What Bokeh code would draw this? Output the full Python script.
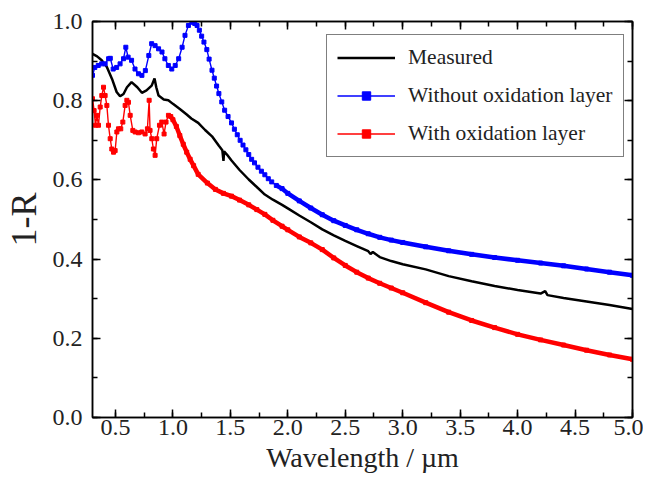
from bokeh.plotting import figure
from bokeh.models import (Range1d, LinearAxis, SingleIntervalTicker, PrintfTickFormatter,
                          Legend, LegendItem)
from bokeh.embed import file_html
from bokeh.resources import INLINE

# ---- data ----
measured_x = [0.30, 0.34, 0.38, 0.425, 0.47, 0.51, 0.54, 0.57, 0.60, 0.64, 0.69, 0.73, 0.77, 0.815,
              0.84, 0.855, 0.875, 0.92, 0.96, 1.0, 1.06, 1.12, 1.16, 1.22, 1.28, 1.34, 1.40, 1.43,
              1.44, 1.445, 1.47, 1.51, 1.58, 1.66, 1.73, 1.80, 1.87, 1.95, 2.0, 2.1, 2.2, 2.3, 2.4,
              2.5, 2.6, 2.7, 2.72, 2.74, 2.8, 2.9, 3.0, 3.2, 3.4, 3.6, 3.8, 4.0, 4.2, 4.24, 4.26,
              4.4, 4.6, 4.8, 5.0]
measured_y = [0.918, 0.912, 0.902, 0.885, 0.855, 0.822, 0.811, 0.817, 0.834, 0.847, 0.834, 0.82,
              0.826, 0.838, 0.856, 0.834, 0.813, 0.803, 0.801, 0.792, 0.779, 0.765, 0.755, 0.744,
              0.726, 0.71, 0.686, 0.675, 0.648, 0.672, 0.664, 0.649, 0.625, 0.601, 0.582, 0.563,
              0.55, 0.537, 0.528, 0.51, 0.493, 0.475, 0.46, 0.446, 0.433, 0.42, 0.413, 0.418,
              0.405, 0.395, 0.387, 0.374, 0.357, 0.344, 0.332, 0.322, 0.313, 0.319, 0.309, 0.302,
              0.293, 0.284, 0.274]

without_x = [0.30, 0.32, 0.35, 0.38, 0.41, 0.44, 0.455, 0.48, 0.51, 0.54, 0.57, 0.59, 0.61, 0.64,
             0.67, 0.70, 0.73, 0.76, 0.79, 0.815, 0.845, 0.875, 0.905, 0.93, 0.96, 0.99, 1.02,
             1.05, 1.08, 1.105, 1.135, 1.165, 1.19, 1.21, 1.23, 1.25, 1.27, 1.295, 1.315, 1.34,
             1.36, 1.38, 1.40, 1.425, 1.45, 1.48, 1.51, 1.535, 1.56, 1.585, 1.61, 1.635, 1.66,
             1.685, 1.71, 1.74, 1.77, 1.80, 1.83, 1.86, 1.90, 1.95, 2.0, 2.1, 2.2, 2.3, 2.4, 2.5,
             2.6, 2.7, 2.8, 2.9, 3.0, 3.2, 3.4, 3.6, 3.8, 4.0, 4.2, 4.4, 4.6, 4.8, 5.0]
without_y = [0.864, 0.884, 0.889, 0.893, 0.893, 0.906, 0.907, 0.88, 0.884, 0.893, 0.906, 0.935,
             0.91, 0.902, 0.88, 0.868, 0.864, 0.876, 0.914, 0.944, 0.939, 0.931, 0.923, 0.906,
             0.889, 0.88, 0.889, 0.906, 0.935, 0.965, 0.99, 0.998, 0.995, 0.99, 0.978, 0.963,
             0.948, 0.929, 0.905, 0.877, 0.857, 0.837, 0.818, 0.797, 0.776, 0.76, 0.744, 0.728,
             0.714, 0.70, 0.688, 0.676, 0.664, 0.652, 0.643, 0.632, 0.622, 0.613, 0.603, 0.595,
             0.586, 0.578, 0.566, 0.547, 0.529, 0.512, 0.497, 0.485, 0.474, 0.464, 0.455, 0.448,
             0.442, 0.431, 0.421, 0.412, 0.404, 0.397, 0.390, 0.383, 0.375, 0.367, 0.359]

with_x = [0.30, 0.314, 0.326, 0.338, 0.352, 0.367, 0.381, 0.396, 0.41, 0.425, 0.439, 0.454, 0.468,
          0.483, 0.497, 0.512, 0.526, 0.546, 0.564, 0.584, 0.599, 0.613, 0.628, 0.651, 0.671,
          0.70, 0.729, 0.758, 0.778, 0.793, 0.801, 0.816, 0.83, 0.845, 0.859, 0.883, 0.903,
          0.923, 0.94, 0.961, 0.981, 1.0, 1.03, 1.06, 1.09, 1.12, 1.15, 1.18, 1.22, 1.3, 1.37,
          1.44, 1.51, 1.58, 1.66, 1.73, 1.80, 1.87, 1.95, 2.0, 2.1, 2.2, 2.3, 2.4, 2.5, 2.6, 2.7,
          2.8, 2.9, 3.0, 3.2, 3.4, 3.6, 3.8, 4.0, 4.2, 4.4, 4.6, 4.8, 5.0]
with_y = [0.805, 0.775, 0.738, 0.763, 0.738, 0.784, 0.813, 0.834, 0.813, 0.788, 0.738, 0.704,
          0.678, 0.67, 0.674, 0.721, 0.729, 0.729, 0.746, 0.788, 0.801, 0.796, 0.763, 0.725,
          0.721, 0.719, 0.721, 0.716, 0.729, 0.801, 0.725, 0.704, 0.678, 0.662, 0.704, 0.738,
          0.746, 0.716, 0.746, 0.763, 0.76, 0.752, 0.735, 0.712, 0.69, 0.67, 0.652, 0.636,
          0.614, 0.592, 0.576, 0.566, 0.559, 0.549, 0.537, 0.525, 0.513, 0.498, 0.483, 0.474,
          0.456, 0.441, 0.424, 0.403, 0.384, 0.367, 0.352, 0.339, 0.327, 0.315, 0.29, 0.266,
          0.245, 0.227, 0.21, 0.196, 0.183, 0.17, 0.158, 0.147]

x_tick_interval = 0.5
y_tick_interval = 0.2
FONT = "Liberation Serif"
BLUE = "#0000FF"
RED = "#FF0000"

p = figure(frame_width=540, frame_height=396, output_backend="svg", toolbar_location=None,
           x_range=Range1d(0.3, 5.0), y_range=Range1d(0.0, 1.0),
           min_border_left=86, min_border_right=11, min_border_top=21, min_border_bottom=55,
           background_fill_color="white", border_fill_color="white")
p.xgrid.visible = False
p.ygrid.visible = False
p.outline_line_color = "black"
p.outline_line_width = 1.5

xt = SingleIntervalTicker(interval=x_tick_interval, num_minor_ticks=2)
yt = SingleIntervalTicker(interval=y_tick_interval, num_minor_ticks=2)


def style_axis(ax, labels=True):
    ax.axis_line_color = "black"
    ax.axis_line_width = 1.5
    ax.major_tick_line_color = "black"
    ax.minor_tick_line_color = "black"
    ax.major_tick_line_width = 1.5
    ax.minor_tick_line_width = 1.5
    ax.major_tick_in = 8
    ax.major_tick_out = 0
    ax.minor_tick_in = 5
    ax.minor_tick_out = 0
    ax.major_label_text_font = FONT
    ax.major_label_text_color = "#222222"
    ax.axis_label_text_font = FONT
    ax.axis_label_text_font_style = "normal"
    ax.axis_label_text_color = "#222222"
    if labels:
        ax.major_label_text_font_size = "24px"
    else:
        ax.major_label_text_font_size = "0px"
        ax.major_label_standoff = 0


p.xaxis.ticker = xt
p.yaxis.ticker = yt
p.xaxis.formatter = PrintfTickFormatter(format="%.1f")
p.yaxis.formatter = PrintfTickFormatter(format="%.1f")
style_axis(p.xaxis[0])
style_axis(p.yaxis[0])
p.xaxis.axis_label = "Wavelength / µm"
p.yaxis.axis_label = "1-R"
p.xaxis.axis_label_text_font_size = "28px"
p.yaxis.axis_label_text_font_size = "36px"
p.xaxis.major_label_standoff = 2
p.xaxis.axis_label_standoff = 4
p.yaxis.major_label_standoff = 10
p.yaxis.axis_label_standoff = 6

top_ax = LinearAxis(ticker=SingleIntervalTicker(interval=x_tick_interval, num_minor_ticks=2),
                    formatter=PrintfTickFormatter(format=""))
right_ax = LinearAxis(ticker=SingleIntervalTicker(interval=y_tick_interval, num_minor_ticks=2),
                      formatter=PrintfTickFormatter(format=""))
style_axis(top_ax, labels=False)
style_axis(right_ax, labels=False)
p.add_layout(top_ax, "above")
p.add_layout(right_ax, "right")

# series
r_meas = p.line(measured_x, measured_y, line_color="black", line_width=2.5)

b_line = p.line(without_x, without_y, line_color=BLUE, line_width=1.4)
b_tail = [(x, y) for x, y in zip(without_x, without_y) if x >= 1.9]
p.line([t[0] for t in b_tail], [t[1] for t in b_tail], line_color=BLUE, line_width=4.5)
b_pts = p.scatter(without_x, without_y, marker="square", size=4, fill_color=BLUE, line_color=BLUE)

r_line = p.line(with_x, with_y, line_color=RED, line_width=1.4)
r_tail = [(x, y) for x, y in zip(with_x, with_y) if x >= 0.96]
p.line([t[0] for t in r_tail], [t[1] for t in r_tail], line_color=RED, line_width=4.5)
r_pts = p.scatter(with_x, with_y, marker="square", size=4, fill_color=RED, line_color=RED)

legend = Legend(items=[
    LegendItem(label="Measured", renderers=[r_meas]),
    LegendItem(label="Without oxidation layer", renderers=[b_line, b_pts]),
    LegendItem(label="With oxidation layer", renderers=[r_line, r_pts]),
], location=(234, 260))
legend.label_text_font = FONT
legend.label_text_font_size = "21.5px"
legend.label_text_color = "#222222"
legend.glyph_width = 58
legend.glyph_height = 21
legend.label_height = 21
legend.label_standoff = 13
legend.spacing = 13
legend.padding = 10
legend.margin = 0
legend.border_line_color = "black"
legend.border_line_width = 1.5
legend.background_fill_alpha = 1.0
p.add_layout(legend, "center")

open("out.html", "w").write(file_html(p, INLINE))
